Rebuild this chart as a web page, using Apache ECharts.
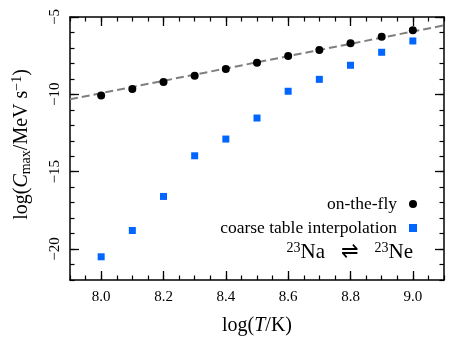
<!DOCTYPE html>
<html>
<head>
<meta charset="utf-8">
<script src="https://cdn.jsdelivr.net/npm/echarts@6/dist/echarts.min.js"></script>
<style>
  html, body { margin: 0; padding: 0; background: #fff; }
  #chart { width: 468px; height: 351px; }
</style>
</head>
<body>
<div id="chart"></div>
<script>
// log T values
const logT = [8.0, 8.1, 8.2, 8.3, 8.4, 8.5, 8.6, 8.7, 8.8, 8.9, 9.0];
// on-the-fly rates
const onTheFly = [-10.08, -9.65, -9.2, -8.79, -8.36, -7.95, -7.52, -7.13, -6.7, -6.27, -5.86];
// coarse table interpolation
const coarseTable = [-20.5, -18.8, -16.6, -13.97, -12.89, -11.53, -9.8, -9.03, -8.12, -7.28, -6.55];
// dashed fit line endpoints
const fitX = [7.9, 9.1];
const fitY = [-10.32, -5.54];
// tick labels
const xTicks = [8.0, 8.2, 8.4, 8.6, 8.8, 9.0];
const yTicks = [-20, -15, -10, -5];

const serif = 'Liberation Serif';
const gridBox = { left: 70, right: 24, top: 17, bottom: 71 };

const chart = echarts.init(document.getElementById('chart'));

function majorX(pos, withLabels) {
  return {
    type: 'value', gridIndex: 0, position: pos, min: 7.9, max: 9.1,
    axisLine: { show: true, lineStyle: { color: '#000', width: 1.5 } },
    axisTick: { show: true, inside: true, length: 9, customValues: xTicks, lineStyle: { color: '#000', width: 1.3 } },
    axisLabel: {
      show: withLabels, customValues: xTicks, margin: 10,
      fontFamily: serif, fontSize: 15, color: '#000',
      formatter: (v) => v.toFixed(1),
    },
    splitLine: { show: false },
  };
}

function minorX(pos) {
  return {
    type: 'value', gridIndex: 1, position: pos, min: 7.9, max: 9.1, interval: 0.05,
    axisLine: { show: false },
    axisTick: { show: true, inside: true, length: 4.5, lineStyle: { color: '#000', width: 1.2 } },
    axisLabel: { show: false },
    splitLine: { show: false },
  };
}

function majorY(pos, withLabels) {
  return {
    type: 'value', gridIndex: 0, position: pos, min: -22, max: -5,
    axisLine: { show: true, lineStyle: { color: '#000', width: 1.5 } },
    axisTick: { show: true, inside: true, length: 9, customValues: yTicks, lineStyle: { color: '#000', width: 1.3 } },
    axisLabel: {
      show: withLabels, customValues: yTicks, rotate: 90, margin: 7,
      fontFamily: serif, fontSize: 15, color: '#000',
      formatter: (v) => String(v).replace('-', '\u2212'),
    },
    splitLine: { show: false },
  };
}

function minorY(pos) {
  return {
    type: 'value', gridIndex: 1, position: pos, min: -22, max: -5, interval: 1,
    axisLine: { show: false },
    axisTick: { show: true, inside: true, length: 4.5, lineStyle: { color: '#000', width: 1.2 } },
    axisLabel: { show: false },
    splitLine: { show: false },
  };
}

const xMain = majorX('bottom', true);
xMain.name = '{n|log(}{i|T}{n|/K)}';
xMain.nameLocation = 'middle';
xMain.nameGap = 36;
xMain.nameTextStyle = {
  rich: {
    n: { fontFamily: serif, fontSize: 20, color: '#000' },
    i: { fontFamily: serif, fontSize: 20, fontStyle: 'italic', color: '#000' },
  },
};

const yMain = majorY('left', true);
yMain.name = '{n|log(}{i|C}{sub|max}{n|/MeV s}{sup|\u22121}{n|)}';
yMain.nameLocation = 'middle';
yMain.nameRotate = 90;
yMain.nameGap = 37;
yMain.nameTextStyle = {
  padding: [0, 0, 0, 8],
  rich: {
    n: { fontFamily: serif, fontSize: 20, color: '#000' },
    i: { fontFamily: serif, fontSize: 20, fontStyle: 'italic', color: '#000' },
    sub: { fontFamily: serif, fontSize: 14, color: '#000', verticalAlign: 'bottom', padding: [9, 0, 0, 0] },
    sup: { fontFamily: serif, fontSize: 14, color: '#000', verticalAlign: 'top', padding: [0, 0, 9, 0] },
  },
};

const option = {
  animation: false,
  backgroundColor: '#fff',
  grid: [
    Object.assign({}, gridBox),
    Object.assign({}, gridBox),
  ],
  xAxis: [xMain, majorX('top', false), minorX('bottom'), minorX('top')],
  yAxis: [yMain, majorY('right', false), minorY('left'), minorY('right')],
  legend: {
    data: [
      { name: 'on-the-fly', icon: 'circle' },
      { name: 'coarse table interpolation', icon: 'rect' },
    ],
    orient: 'vertical',
    align: 'right',
    right: 46,
    top: 190,
    itemWidth: 8,
    itemHeight: 8,
    itemGap: 6,
    textStyle: { fontFamily: serif, fontSize: 17.5, color: '#000', padding: [0, 7, 0, 0] },
  },
  graphic: [
    {
      type: 'text',
      right: 55,
      top: 241,
      style: {
        text: '{sup|23}{n|Na   \u21cc   }{sup|23}{n|Ne}',
        rich: {
          n: { fontFamily: serif, fontSize: 21, color: '#000' },
          sup: { fontFamily: serif, fontSize: 14, color: '#000', verticalAlign: 'top', padding: [0, 0, 8, 0] },
        },
      },
    },
  ],
  series: [
    {
      name: 'fit',
      type: 'line',
      xAxisIndex: 0, yAxisIndex: 0,
      data: fitX.map((x, i) => [x, fitY[i]]),
      symbol: 'none',
      lineStyle: { color: '#7f7f7f', width: 2, type: [8, 4] },
      z: 2,
    },
    {
      name: 'on-the-fly',
      type: 'scatter',
      xAxisIndex: 0, yAxisIndex: 0,
      data: logT.map((x, i) => [x, onTheFly[i]]),
      symbol: 'circle',
      symbolSize: 8,
      itemStyle: { color: '#000', opacity: 1 },
      z: 3,
    },
    {
      name: 'coarse table interpolation',
      type: 'scatter',
      xAxisIndex: 0, yAxisIndex: 0,
      data: logT.map((x, i) => [x, coarseTable[i]]),
      symbol: 'rect',
      symbolSize: 7,
      itemStyle: { color: '#0066ff', opacity: 1 },
      z: 3,
    },
  ],
};

chart.setOption(option);
</script>
</body>
</html>
